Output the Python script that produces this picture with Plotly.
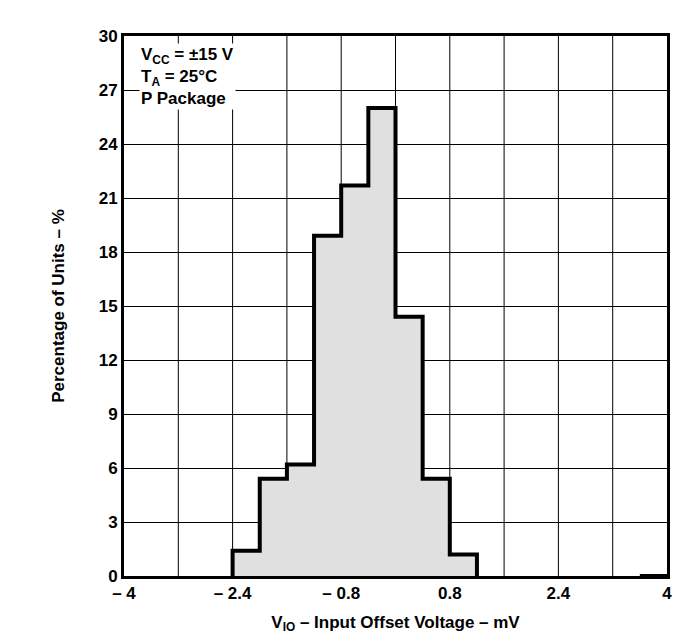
import plotly.graph_objects as go

bin_edges = [-2.4, -2.0, -1.6, -1.2, -0.8, -0.4, 0.0, 0.4, 0.8, 1.2]
percent = [1.4, 5.4, 6.2, 18.9, 21.7, 26.0, 14.4, 5.4, 1.2]
x_ticks = [-4, -2.4, -0.8, 0.8, 2.4, 4]
x_tick_labels = ["– 4", "– 2.4", "– 0.8", "0.8", "2.4", "4"]
y_ticks = [0, 3, 6, 9, 12, 15, 18, 21, 24, 27, 30]

xs = [bin_edges[0]] + bin_edges
ys = [0] + percent + [0]

fig = go.Figure()
fig.add_trace(go.Scatter(x=xs, y=ys, mode="lines", line=dict(shape="hv", color="black", width=4),
                         fill="tozeroy", fillcolor="#e0e0e0", hoverinfo="skip"))
fig.add_trace(go.Scatter(x=[3.6, 4.0], y=[0, 0], mode="lines", line=dict(color="black", width=4)))

bold = dict(family="Liberation Sans, Arial", size=17, color="black", weight="bold")
fig.update_layout(
    width=684, height=643, showlegend=False, plot_bgcolor="white", paper_bgcolor="white",
    margin=dict(l=116, r=25, t=28, b=75), font=bold,
    xaxis=dict(range=[-4, 4], tickvals=x_ticks, ticktext=x_tick_labels,
               showgrid=False, zeroline=False, showline=True, linecolor="black", linewidth=3, mirror=True,
               tickfont=bold, ticklen=0,
               title=dict(text="V<sub>IO</sub> – Input Offset Voltage – mV", standoff=14, font=bold)),
    yaxis=dict(range=[0, 30], tickvals=y_ticks, showgrid=True, gridcolor="black", gridwidth=1,
               zeroline=False, showline=True, linecolor="black", linewidth=3, mirror=True,
               tickfont=bold, ticklen=0,
               title=dict(text="Percentage of Units – %", standoff=30, font=bold)),
)
for v in [-3.2, -2.4, -1.6, -0.8, 0, 0.8, 1.6, 2.4, 3.2]:
    fig.add_shape(type="line", x0=v, x1=v, y0=0, y1=30, xref="x", yref="y",
                  line=dict(color="black", width=1), layer="below")
fig.add_annotation(x=-3.78, y=29.6, xref="x", yref="y", xanchor="left", yanchor="top", align="left",
                   text="V<sub>CC</sub> = ±15 V<br>T<sub>A</sub> = 25°C<br>P Package",
                   showarrow=False, bgcolor="white", font=bold)
fig.write_html("out.html")
